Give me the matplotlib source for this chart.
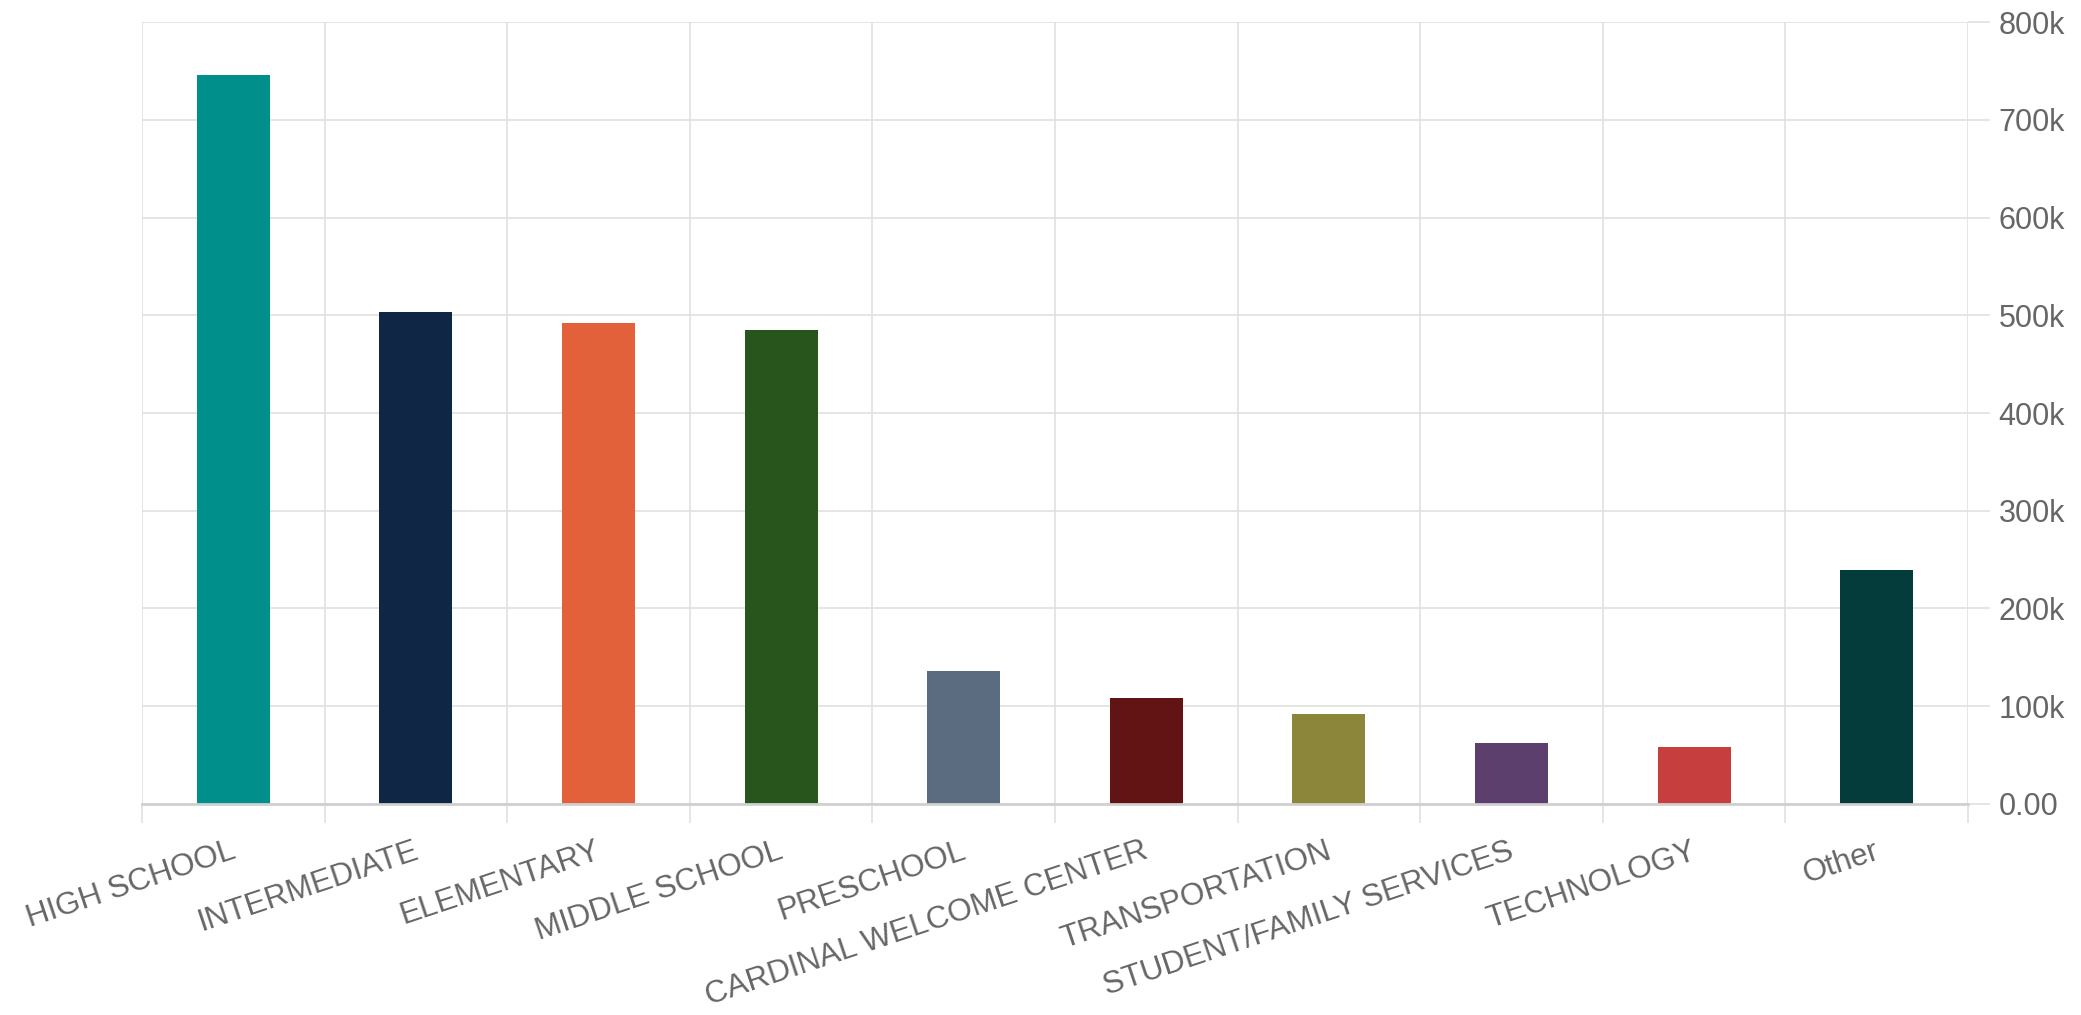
import numpy as np
import matplotlib
matplotlib.use('Agg')
import matplotlib.pyplot as plt
from matplotlib.ticker import FuncFormatter, MultipleLocator

categories = ['HIGH SCHOOL', 'INTERMEDIATE', 'ELEMENTARY', 'MIDDLE SCHOOL', 'PRESCHOOL',
              'CARDINAL WELCOME CENTER', 'TRANSPORTATION', 'STUDENT/FAMILY SERVICES',
              'TECHNOLOGY', 'Other']
values = [746000, 503000, 492000, 485000, 136000, 108000, 92000, 62000, 58000, 239000]
colors = ['#008F8A', '#0F2744', '#E2603A', '#28551B', '#5B6B80',
          '#621414', '#8C863A', '#5C3F6D', '#C63E3E', '#033C3A']
y_max = 800000
y_step = 100000

plt.rcParams['font.family'] = ['Liberation Sans', 'DejaVu Sans']

fig = plt.figure(figsize=(20.81, 10.15), dpi=100)
ax = fig.add_axes([0.0682, 0.2079, 0.9457 - 0.0682, 0.9783 - 0.2079])

x = np.arange(len(categories))
ax.bar(x, values, width=0.4, color=colors, zorder=3)

ax.set_xlim(-0.5, len(categories) - 0.5)
ax.set_ylim(0, y_max)

def k_fmt(v, pos):
    if v == 0:
        return '0.00'
    return '%dk' % int(round(v / 1000))

ax.yaxis.set_major_locator(MultipleLocator(y_step))
ax.yaxis.set_major_formatter(FuncFormatter(k_fmt))
ax.yaxis.tick_right()

# category boundaries as grid
ax.set_xticks(np.arange(len(categories) + 1) - 0.5)
ax.set_xticklabels([])
ax.tick_params(axis='x', length=14, width=1.2, color='#e0e0e0')
ax.tick_params(axis='y', length=16, width=1.2, color='#e0e0e0',
               labelsize=22, labelcolor='#666666', pad=6)
ax.grid(True, color='#e0e0e0', linewidth=1.2, zorder=0)

for i, lab in enumerate(categories):
    ax.text(i - 0.02, -33000, lab, rotation=18.5, rotation_mode='anchor',
            ha='right', va='top', fontsize=22.5, color='#666666')

for s in ['top', 'left', 'right']:
    ax.spines[s].set_visible(False)
ax.spines['bottom'].set_color('#d0d0d0')
ax.spines['bottom'].set_linewidth(2)
ax.spines['bottom'].set_zorder(4)

plt.savefig('out.png', dpi=100, facecolor='white')
